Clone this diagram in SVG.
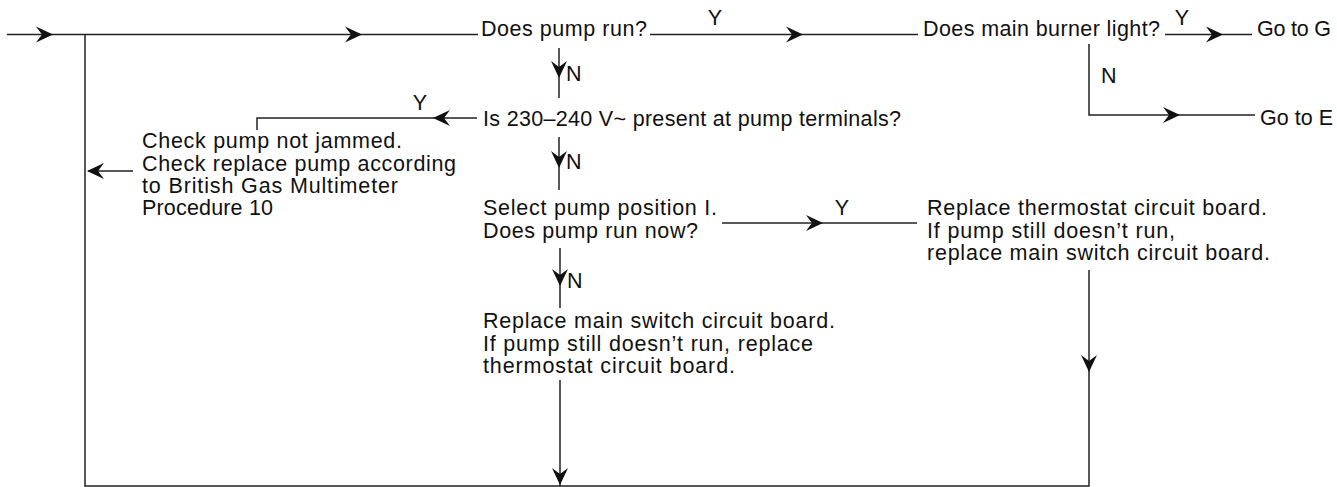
<svg xmlns="http://www.w3.org/2000/svg" xmlns:xlink="http://www.w3.org/1999/xlink" width="1337" height="487" viewBox="0 0 1337 487">
<style>
text{font-family:"Liberation Sans",Arial,Helvetica,sans-serif;font-size:21.5px;fill:#111}
.ln{stroke:#222;stroke-width:1.5;fill:none}
.lbl{text-anchor:middle}
</style>
<defs>
<path id="ah" d="M0,0 L-17,-8 L-11,0 L-17,8 Z" fill="#111"/>
</defs>
<rect width="1337" height="487" fill="#fff"/>
<g id="connectors">
<path class="ln" d="M7,34.5 H478"/>
<use xlink:href="#ah" transform="translate(53,34.5)"/>
<use xlink:href="#ah" transform="translate(362,34.5)"/>
<path class="ln" d="M85,34.5 V486 H1089 V270"/>
<path class="ln" d="M650,34.5 H918"/>
<use xlink:href="#ah" transform="translate(803,34.5)"/>
<text class="lbl" x="715" y="25">Y</text>
<path class="ln" d="M1165,34.5 H1252"/>
<use xlink:href="#ah" transform="translate(1223,34.5)"/>
<text class="lbl" x="1182" y="25">Y</text>
<path class="ln" d="M1089,44 V115 H1255"/>
<use xlink:href="#ah" transform="translate(1180,115)"/>
<text x="1101" y="83">N</text>
<path class="ln" d="M559,48 V98"/>
<use xlink:href="#ah" transform="translate(559,78) rotate(90)"/>
<text x="566" y="81">N</text>
<path class="ln" d="M477,118 H257 V130"/>
<use xlink:href="#ah" transform="translate(433,118) rotate(180)"/>
<text class="lbl" x="420" y="110">Y</text>
<path class="ln" d="M133,171 H88"/>
<use xlink:href="#ah" transform="translate(87,171) rotate(180)"/>
<path class="ln" d="M559,137 V190"/>
<use xlink:href="#ah" transform="translate(559,168) rotate(90)"/>
<text x="566" y="169">N</text>
<path class="ln" d="M722,223 H917"/>
<use xlink:href="#ah" transform="translate(823,223)"/>
<text class="lbl" x="842" y="215">Y</text>
<path class="ln" d="M560,248 V308"/>
<use xlink:href="#ah" transform="translate(560,286) rotate(90)"/>
<text x="567" y="288">N</text>
<path class="ln" d="M560,380 V486"/>
<use xlink:href="#ah" transform="translate(560,485) rotate(90)"/>
<use xlink:href="#ah" transform="translate(1089,372) rotate(90)"/>
</g>
<g id="q1"><text x="481" y="36" textLength="166" lengthAdjust="spacing">Does pump run?</text></g>
<g id="q2"><text x="923" y="36" textLength="237" lengthAdjust="spacing">Does main burner light?</text></g>
<g id="goG"><text x="1257" y="36" textLength="74" lengthAdjust="spacing">Go to G</text></g>
<g id="goE"><text x="1260" y="125" textLength="73" lengthAdjust="spacing">Go to E</text></g>
<g id="q3"><text x="483" y="126" textLength="418" lengthAdjust="spacing">Is 230–240 V~ present at pump terminals?</text></g>
<g id="checkpump">
<text x="142" y="148" textLength="260" lengthAdjust="spacing">Check pump not jammed.</text>
<text x="142" y="171" textLength="314" lengthAdjust="spacing">Check replace pump according</text>
<text x="142" y="193" textLength="256" lengthAdjust="spacing">to British Gas Multimeter</text>
<text x="142" y="215" textLength="131" lengthAdjust="spacing">Procedure 10</text>
</g>
<g id="q4">
<text x="483" y="215" textLength="234" lengthAdjust="spacing">Select pump position I.</text>
<text x="483" y="238" textLength="215" lengthAdjust="spacing">Does pump run now?</text>
</g>
<g id="replthermo">
<text x="927" y="215" textLength="340" lengthAdjust="spacing">Replace thermostat circuit board.</text>
<text x="927" y="238" textLength="248" lengthAdjust="spacing">If pump still doesn’t run,</text>
<text x="927" y="260" textLength="343" lengthAdjust="spacing">replace main switch circuit board.</text>
</g>
<g id="replmain">
<text x="483" y="328" textLength="352" lengthAdjust="spacing">Replace main switch circuit board.</text>
<text x="483" y="351" textLength="330" lengthAdjust="spacing">If pump still doesn’t run, replace</text>
<text x="483" y="373" textLength="252" lengthAdjust="spacing">thermostat circuit board.</text>
</g>
</svg>
